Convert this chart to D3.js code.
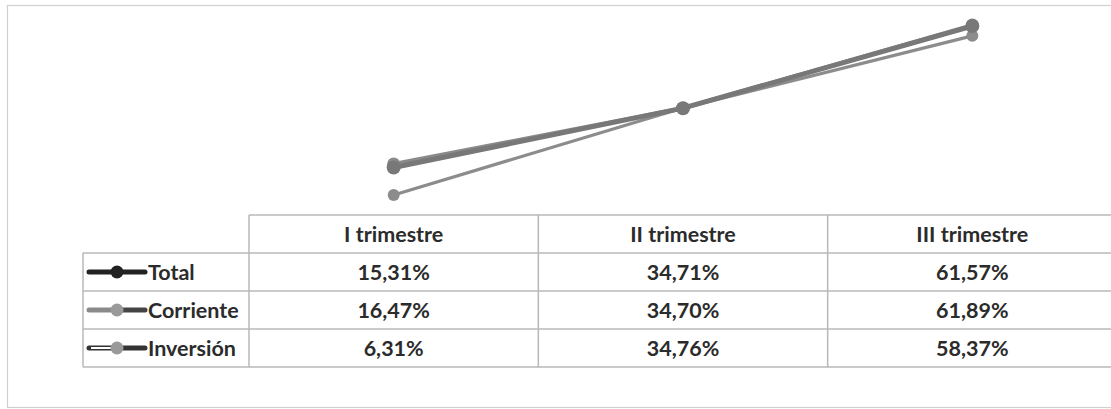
<!DOCTYPE html>
<html><head><meta charset="utf-8">
<script src="https://cdn.jsdelivr.net/npm/d3@7"></script>
<style>
html,body{margin:0;padding:0;background:#fff;}
svg{display:block;}
text{font-family:Lato,"Open Sans",sans-serif;font-weight:bold;fill:#2b2b2b;}
</style></head><body>
<svg id="c" width="1111" height="409"></svg>
<script>
const categories = ["I trimestre", "II trimestre", "III trimestre"];
const seriesNames = ["Total", "Corriente", "Inversión"];
const totalValues = [15.31, 34.71, 61.57];
const corrienteValues = [16.47, 34.70, 61.89];
const inversionValues = [6.31, 34.76, 58.37];
const valueLabels = [
  ["15,31%", "34,71%", "61,57%"],
  ["16,47%", "34,70%", "61,89%"],
  ["6,31%", "34,76%", "58,37%"]
];
const series = [
  {name: seriesNames[0], values: totalValues, labels: valueLabels[0], color: "#787878", width: 5, r: 7},
  {name: seriesNames[1], values: corrienteValues, labels: valueLabels[1], color: "#8a8a8a", width: 4, r: 6.5},
  {name: seriesNames[2], values: inversionValues, labels: valueLabels[2], color: "#8c8c8c", width: 3.2, r: 6}
];

const svg = d3.select("#c");
svg.append("rect").attr("x", 7.5).attr("y", 5.5).attr("width", 1120).attr("height", 402)
  .attr("fill", "none").attr("stroke", "#d0d0d0").attr("stroke-width", 1.2);

const x = d3.scaleBand().domain(categories).range([249, 1117]);
const y = d3.scaleLinear().domain([0, 70]).range([214.3, 0.3]);
const rowY = d3.scaleBand().domain(["header"].concat(seriesNames)).range([215, 367]);
const legendLeft = 83;
const fs = 21.5;

const line = d3.line().x((d, i) => x(categories[i]) + x.bandwidth() / 2).y(d => y(d));
const g = svg.append("g");
series.slice().reverse().forEach(s => {
  g.append("path").attr("d", line(s.values)).attr("fill", "none")
    .attr("stroke", s.color).attr("stroke-width", s.width).attr("stroke-linecap", "round");
});
series.slice().reverse().forEach(s => {
  g.selectAll(null).data(s.values).enter().append("circle")
    .attr("cx", (d, i) => x(categories[i]) + x.bandwidth() / 2)
    .attr("cy", d => y(d)).attr("r", s.r).attr("fill", s.color);
});

const grid = svg.append("g").attr("stroke", "#b8b8b8").attr("stroke-width", 1.5).attr("fill", "none");
const tTop = rowY("header"), tBot = rowY.range()[1];
grid.append("line").attr("x1", x.range()[0]).attr("x2", 1111).attr("y1", tTop).attr("y2", tTop);
seriesNames.forEach(n => {
  grid.append("line").attr("x1", legendLeft).attr("x2", 1111).attr("y1", rowY(n)).attr("y2", rowY(n));
});
grid.append("line").attr("x1", legendLeft).attr("x2", 1111).attr("y1", tBot).attr("y2", tBot);
grid.append("line").attr("x1", legendLeft).attr("x2", legendLeft).attr("y1", rowY(seriesNames[0])).attr("y2", tBot);
categories.forEach(c => {
  grid.append("line").attr("x1", x(c)).attr("x2", x(c)).attr("y1", tTop).attr("y2", tBot);
});

svg.selectAll(null).data(categories).enter().append("text")
  .attr("x", d => x(d) + x.bandwidth() / 2).attr("y", tTop + rowY.bandwidth() / 2 + 7.5)
  .attr("text-anchor", "middle").attr("font-size", fs).text(d => d);

const legendStyles = [
  {left: "#222", right: "#222", marker: "#222", outline: false},
  {left: "#8a8a8a", right: "#444", marker: "#9a9a9a", outline: false},
  {left: "#333", right: "#333", marker: "#9a9a9a", outline: true}
];
series.forEach((s, k) => {
  const cy = rowY(s.name) + rowY.bandwidth() / 2;
  svg.selectAll(null).data(s.labels).enter().append("text")
    .attr("x", (d, i) => x(categories[i]) + x.bandwidth() / 2).attr("y", cy + 7.5)
    .attr("text-anchor", "middle").attr("font-size", fs).text(d => d);
  const st = legendStyles[k];
  svg.append("line").attr("x1", legendLeft + 6).attr("x2", legendLeft + 34).attr("y1", cy).attr("y2", cy)
    .attr("stroke", st.left).attr("stroke-width", 5).attr("stroke-linecap", "round");
  if (st.outline) {
    svg.append("line").attr("x1", legendLeft + 8).attr("x2", legendLeft + 34).attr("y1", cy).attr("y2", cy)
      .attr("stroke", "#fff").attr("stroke-width", 2);
  }
  svg.append("line").attr("x1", legendLeft + 34).attr("x2", legendLeft + 62).attr("y1", cy).attr("y2", cy)
    .attr("stroke", st.right).attr("stroke-width", 5).attr("stroke-linecap", "round");
  svg.append("circle").attr("cx", legendLeft + 34).attr("cy", cy).attr("r", 6.5).attr("fill", st.marker);
  svg.append("text").attr("x", legendLeft + 65).attr("y", cy + 7.5).attr("font-size", fs).text(s.name);
});
</script>
</body></html>
